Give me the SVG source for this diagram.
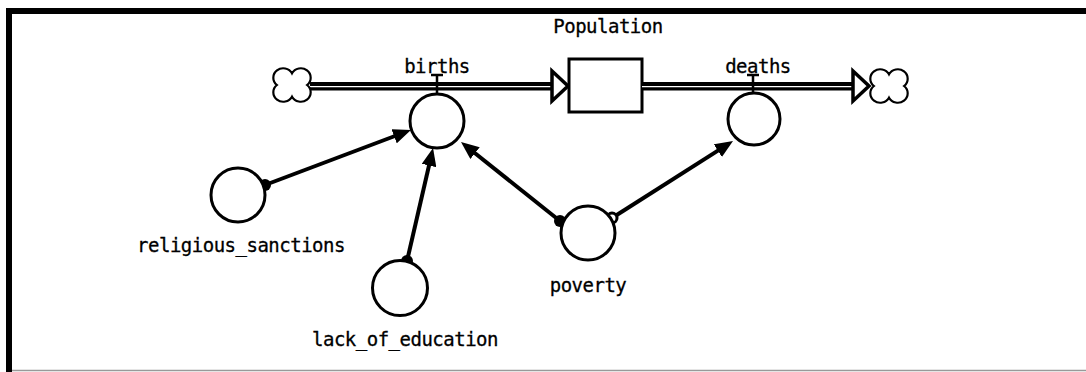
<svg xmlns="http://www.w3.org/2000/svg" width="1086" height="372" viewBox="0 0 1086 372">
<defs>
<style>
.lbl{font-family:"DejaVu Sans Mono","Liberation Mono",monospace;font-size:19px;letter-spacing:-0.5px;fill:#000;stroke:#000;stroke-width:0.3;text-anchor:middle}
.aux{fill:#fff;stroke:#000;stroke-width:3}
.con{stroke:#000;stroke-width:4;fill:none;marker-end:url(#ah)}
.pipe{fill:#000}
.pipein{stroke:#fff;stroke-width:1.3}
.cloud{fill:#fff;stroke:#000;stroke-width:2}
.valve{stroke:#000;stroke-width:2.5;fill:none}
</style>
<marker id="ah" viewBox="0 0 18 15" refX="8" refY="7.5" markerWidth="18" markerHeight="15" markerUnits="userSpaceOnUse" orient="auto">
<path d="M0,0 L18,7.5 L0,15 Z" fill="#000"/>
</marker>
<path id="cl" d="M0,-11.1 A9 9 0 1 1 13.7,0 A9 9 0 1 1 0,11.1 A9 9 0 1 1 -13.7,0 A9 9 0 1 1 0,-11.1 Z"/>
</defs>
<rect width="1086" height="372" fill="#fff"/>
<g id="frame">
<rect x="6" y="8" width="1080" height="6" fill="#000"/>
<rect x="6" y="8" width="6" height="364" fill="#000"/>
<line x1="12" y1="370.5" x2="1086" y2="370.5" stroke="#999" stroke-width="1.5"/>
</g>
<g id="connectors">
<line class="con" x1="265" y1="185" x2="401.6" y2="133.5"/>
<line class="con" x1="407" y1="261" x2="430.8" y2="157.7"/>
<line class="con" x1="560" y1="221" x2="468.8" y2="148.2"/>
<line class="con" x1="612" y1="218" x2="724.6" y2="146.4"/>
<circle cx="265" cy="185" r="6" fill="#000"/>
<circle cx="407" cy="261" r="6" fill="#000"/>
<circle cx="560" cy="221" r="6" fill="#000"/>
<circle cx="612" cy="218" r="5" fill="#fff" stroke="#000" stroke-width="3"/>
</g>
<g id="births-flow">
<rect class="pipe" x="310" y="82" width="243" height="8.5"/>
<line class="pipein" x1="310" y1="86.6" x2="553" y2="86.6"/>
<polygon points="552,71 568,86 552,101" fill="#fff" stroke="#000" stroke-width="3.5"/>
<use href="#cl" class="cloud" transform="translate(292,85) scale(1.1,1.05)"/>
</g>
<g id="births">
<path class="valve" d="M431,75 H443 M437,75 V94"/>
<circle class="aux" cx="437" cy="121" r="27"/>
<text class="lbl" x="437" y="73">births</text>
</g>
<g id="population">
<rect x="569" y="59" width="73" height="53" fill="#fff" stroke="#000" stroke-width="3"/>
<text class="lbl" x="608" y="33">Population</text>
</g>
<g id="deaths-flow">
<rect class="pipe" x="642" y="82" width="212" height="8.5"/>
<line class="pipein" x1="642" y1="86.6" x2="854" y2="86.6"/>
<polygon points="853,71 869,86 853,101" fill="#fff" stroke="#000" stroke-width="3.5"/>
<use href="#cl" class="cloud" transform="translate(889,86) scale(1.1,1.05)"/>
</g>
<g id="deaths">
<path class="valve" d="M747,75 H759 M753,75 V93"/>
<circle class="aux" cx="754" cy="119" r="26"/>
<text class="lbl" x="758" y="73">deaths</text>
</g>
<g id="religious_sanctions">
<circle class="aux" cx="238" cy="195" r="27"/>
<text class="lbl" x="241" y="252">religious_sanctions</text>
</g>
<g id="lack_of_education">
<circle class="aux" cx="400" cy="288" r="27.5"/>
<text class="lbl" x="405" y="346">lack_of_education</text>
</g>
<g id="poverty">
<circle class="aux" cx="588" cy="233" r="27"/>
<text class="lbl" x="588" y="292">poverty</text>
</g>
</svg>
